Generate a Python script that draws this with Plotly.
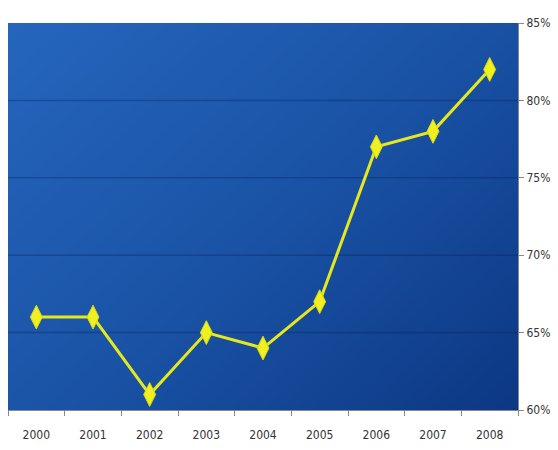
import numpy as np
import plotly.graph_objects as go

years = ["2000", "2001", "2002", "2003", "2004", "2005", "2006", "2007", "2008"]
values = [66, 66, 61, 65, 64, 67, 77, 78, 82]
y_ticks = [60, 65, 70, 75, 80, 85]
y_tick_labels = ["60%", "65%", "70%", "75%", "80%", "85%"]
Y_MIN, Y_MAX = 60, 85

# background gradient (style only)
gx = np.linspace(0, 1, 40)
gy = np.linspace(0, 1, 40)
GX, GY = np.meshgrid(gx, gy)
Z = 0.55 * GX + 0.45 * (1 - GY)

fig = go.Figure()
fig.add_trace(go.Heatmap(
    x=gx, y=gy, z=Z, xaxis="x", yaxis="y",
    colorscale=[[0, "#2566bd"], [0.5, "#1a53a6"], [1, "#0c3783"]],
    showscale=False, zsmooth="best", hoverinfo="skip",
))
# faint dark gridlines drawn over the gradient (positions from tick list)
gxs, gys = [], []
for t in y_ticks[1:-1]:
    f = (t - Y_MIN) / (Y_MAX - Y_MIN)
    gxs += [0, 1, None]
    gys += [f, f, None]
fig.add_trace(go.Scatter(
    x=gxs, y=gys, mode="lines", xaxis="x", yaxis="y",
    line=dict(color="rgba(8,28,75,0.3)", width=1.5), hoverinfo="skip",
))
fig.add_trace(go.Scatter(
    x=years, y=values, mode="lines+markers", xaxis="x2", yaxis="y2",
    line=dict(color="#e6e81e", width=3),
    marker=dict(symbol="diamond-tall", size=17, color="#f0f020",
                line=dict(color="#d8d810", width=1)),
))

font_family = "Liberation Sans Narrow, DejaVu Sans Condensed, Arial Narrow, Liberation Sans, Arial"
fig.update_layout(
    width=558, height=450,
    margin=dict(l=8, r=34, t=23, b=40),
    paper_bgcolor="white", plot_bgcolor="#1a53a6",
    showlegend=False,
    font=dict(family=font_family, size=12, color="#333333"),
    xaxis=dict(range=[0, 1], visible=False, fixedrange=True),
    yaxis=dict(range=[0, 1], visible=False, fixedrange=True),
    xaxis2=dict(
        overlaying="x", side="bottom",
        type="category", tickson="boundaries", ticks="outside", ticklen=5,
        tickcolor="#888888", showgrid=False, showline=True, linecolor="#888888",
        tickfont=dict(size=12, color="#333333"), zeroline=False,
        range=[-0.5, 8.5], ticklabelstandoff=14,
    ),
    yaxis2=dict(
        overlaying="y", side="right", anchor="x2",
        range=[Y_MIN, Y_MAX], tickvals=y_ticks, ticktext=y_tick_labels,
        ticks="outside", ticklen=5, tickcolor="#888888",
        showgrid=False,
        showline=True, linecolor="#888888", zeroline=False,
        tickfont=dict(size=12, color="#333333"),
    ),
)
fig.write_html("out.html")
